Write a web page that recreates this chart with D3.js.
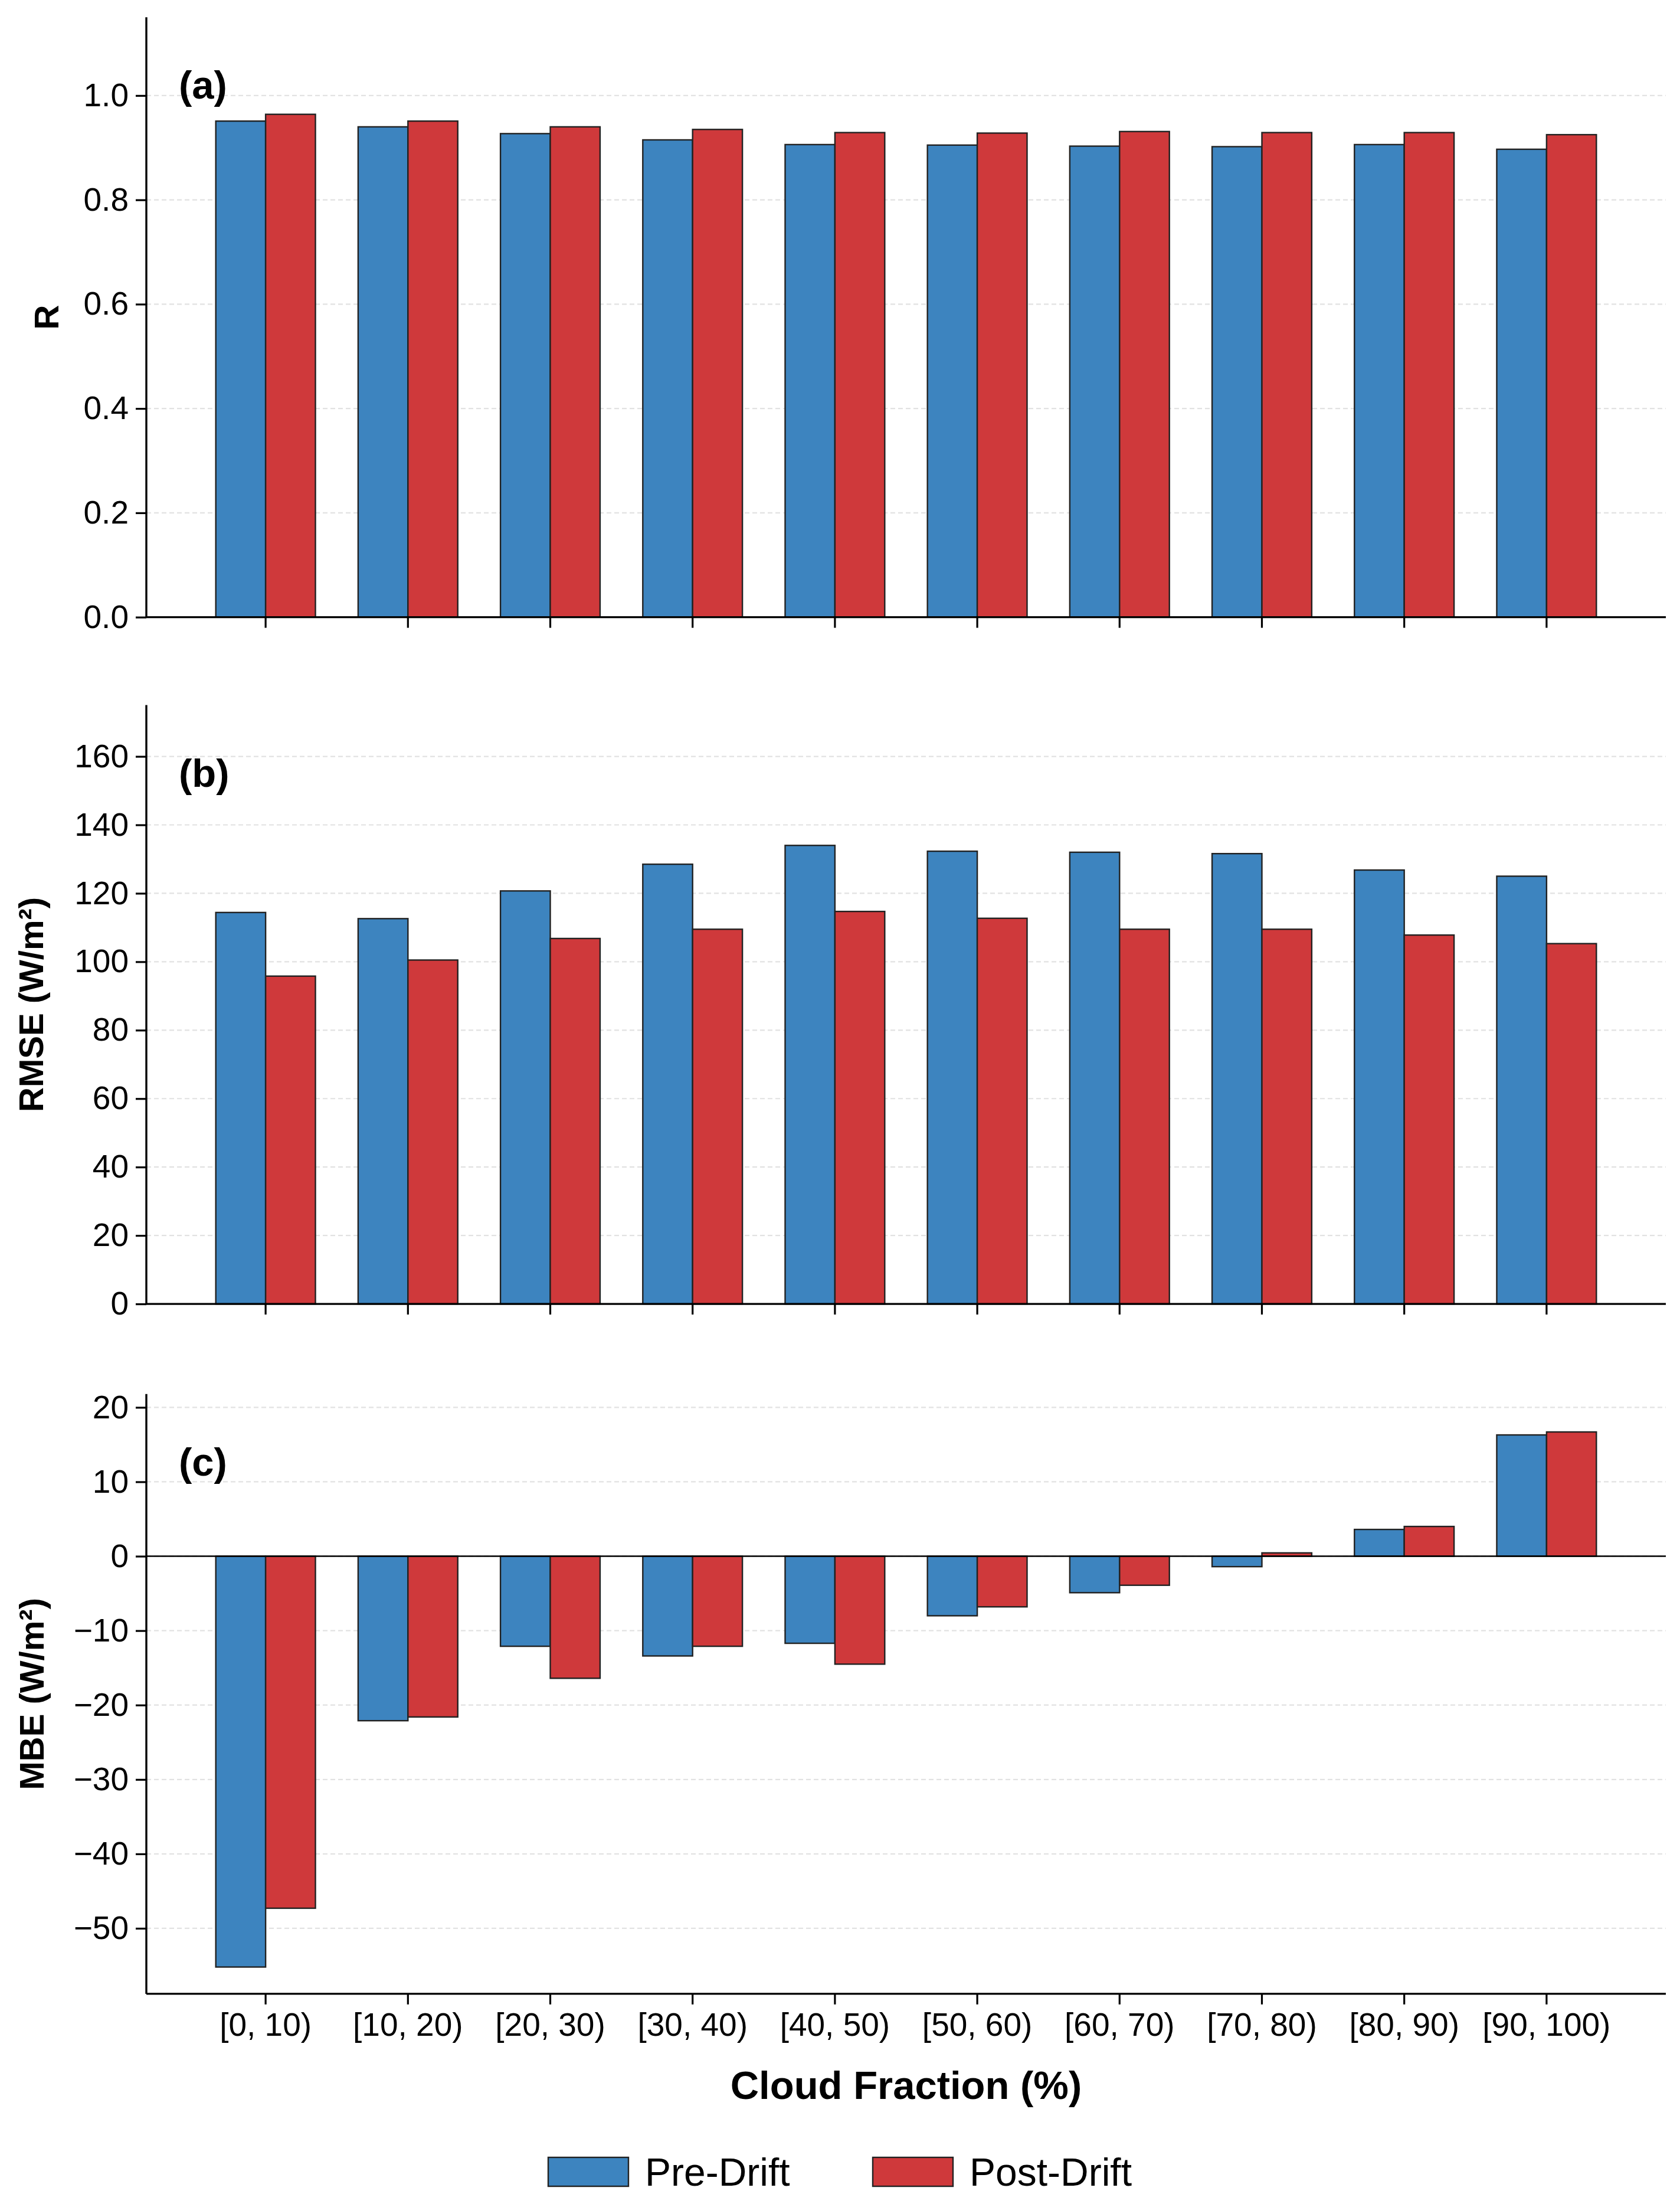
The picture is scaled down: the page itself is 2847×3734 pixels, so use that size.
<!DOCTYPE html>
<html>
<head>
<meta charset="utf-8">
<script src="https://cdn.jsdelivr.net/npm/d3@7"></script>
<style>
  html, body { margin: 0; padding: 0; background: #fff; }
  svg { display: block; font-family: "Liberation Sans", Arial, sans-serif; }
</style>
</head>
<body>
<svg id="chart" width="2847" height="3734"></svg>
<script>
// categories and values
const categories = ["[0, 10)", "[10, 20)", "[20, 30)", "[30, 40)", "[40, 50)",
                    "[50, 60)", "[60, 70)", "[70, 80)", "[80, 90)", "[90, 100)"];
const series = ["Pre-Drift", "Post-Drift"];

const rPre     = [0.951, 0.940, 0.927, 0.915, 0.906, 0.905, 0.903, 0.902, 0.906, 0.897];
const rPost    = [0.964, 0.951, 0.940, 0.935, 0.929, 0.928, 0.931, 0.929, 0.929, 0.925];
const rmsePre  = [114.4, 112.6, 120.7, 128.5, 134.0, 132.3, 132.0, 131.6, 126.8, 125.0];
const rmsePost = [95.8, 100.5, 106.8, 109.5, 114.7, 112.7, 109.5, 109.5, 107.8, 105.3];
const mbePre   = [-55.2, -22.1, -12.1, -13.4, -11.7, -8.0, -4.9, -1.4, 3.6, 16.3];
const mbePost  = [-47.3, -21.6, -16.4, -12.1, -14.5, -6.8, -3.9, 0.45, 4.0, 16.7];

const rTicks    = [0, 0.2, 0.4, 0.6, 0.8, 1.0];
const rmseTicks = [0, 20, 40, 60, 80, 100, 120, 140, 160];
const mbeTicks  = [-50, -40, -30, -20, -10, 0, 10, 20];

const colors = ["#3d84bf", "#cf393b"];

const svg = d3.select("#chart");
const L = 248, R = 2823;

const x = d3.scaleBand().domain(categories).range([L, R]).paddingInner(0).paddingOuter(0.338);
const bw = x.step() * 0.35;

const panels = [
  { pre: rPre, post: rPost, ticks: rTicks, fmt: d3.format(".1f"), dom: [0, 1.15],
    top: 29.3, bottom: 1045.6, label: "R", tag: "(a)", labX: 99, zero: false, xlabels: false },
  { pre: rmsePre, post: rmsePost, ticks: rmseTicks, fmt: d3.format("d"), dom: [0, 175],
    top: 1194.6, bottom: 2209.1, label: "RMSE (W/m²)", tag: "(b)", labX: 73, zero: false, xlabels: false },
  { pre: mbePre, post: mbePost, ticks: mbeTicks, fmt: d => d3.format("d")(d).replace("-", "\u2212"), dom: [-58.8, 21.8],
    top: 2361.7, bottom: 3377.9, label: "MBE (W/m²)", tag: "(c)", labX: 74, zero: true, xlabels: true }
];

panels.forEach(p => {
  const y = d3.scaleLinear().domain(p.dom).range([p.bottom, p.top]);
  const g = svg.append("g");

  // dashed grid
  g.append("g").selectAll("line").data(p.ticks).join("line")
    .attr("x1", L).attr("x2", R)
    .attr("y1", d => y(d)).attr("y2", d => y(d))
    .attr("stroke", "#e2e2e2").attr("stroke-width", 2.2)
    .attr("stroke-dasharray", "8,5");

  // bars
  [p.pre, p.post].forEach((vals, si) => {
    g.append("g").selectAll("rect").data(vals).join("rect")
      .attr("x", (d, i) => x(categories[i]) + x.bandwidth() / 2 - bw + si * bw)
      .attr("y", d => y(Math.max(0, d)))
      .attr("width", bw)
      .attr("height", d => Math.abs(y(d) - y(0)))
      .attr("fill", colors[si])
      .attr("stroke", "#222").attr("stroke-width", 2.4);
  });

  if (p.zero) {
    g.append("line").attr("x1", L).attr("x2", R)
      .attr("y1", y(0)).attr("y2", y(0))
      .attr("stroke", "#000").attr("stroke-width", 2.6);
  }

  // y axis
  const ya = g.append("g").attr("transform", `translate(${L},0)`)
    .call(d3.axisLeft(y).tickValues(p.ticks).tickFormat(p.fmt).tickSize(18).tickPadding(12));
  ya.select(".domain").attr("d", `M0,${p.top}V${p.bottom}`).attr("stroke-width", 3.4);
  ya.selectAll(".tick line").attr("stroke-width", 3.2);
  ya.selectAll("text").attr("font-size", 55).attr("fill", "#000")
    .attr("font-family", "'Liberation Sans', Arial, sans-serif");

  // x axis
  const xa = g.append("g").attr("transform", `translate(0,${p.bottom})`)
    .call(d3.axisBottom(x).tickSize(18).tickPadding(14)
      .tickFormat(p.xlabels ? d => d : () => ""));
  xa.select(".domain").attr("d", `M${L},0H${R}`).attr("stroke-width", 3.4);
  xa.selectAll(".tick line").attr("stroke-width", 3.2);
  xa.selectAll("text").attr("font-size", 55).attr("fill", "#000")
    .attr("font-family", "'Liberation Sans', Arial, sans-serif");

  // y label
  g.append("text")
    .attr("transform", `translate(${p.labX},${(p.top + p.bottom) / 2}) rotate(-90)`)
    .attr("text-anchor", "middle")
    .attr("font-size", 58).attr("font-weight", "bold")
    .text(p.label);

  // panel tag
  g.append("text")
    .attr("x", L + 55).attr("y", p.top + 138)
    .attr("font-size", 67).attr("font-weight", "bold")
    .text(p.tag);
});

// x label
svg.append("text")
  .attr("x", (L + R) / 2).attr("y", 3556)
  .attr("text-anchor", "middle")
  .attr("font-size", 67).attr("font-weight", "bold")
  .text("Cloud Fraction (%)");

// legend
const legX = [929, 1479];
const leg = svg.append("g");
series.forEach((s, i) => {
  leg.append("rect")
    .attr("x", legX[i]).attr("y", 3655).attr("width", 136).attr("height", 49)
    .attr("fill", colors[i]).attr("stroke", "#222").attr("stroke-width", 2.4);
  leg.append("text")
    .attr("x", legX[i] + 164).attr("y", 3703)
    .attr("font-size", 66)
    .text(s);
});
</script>
</body>
</html>
